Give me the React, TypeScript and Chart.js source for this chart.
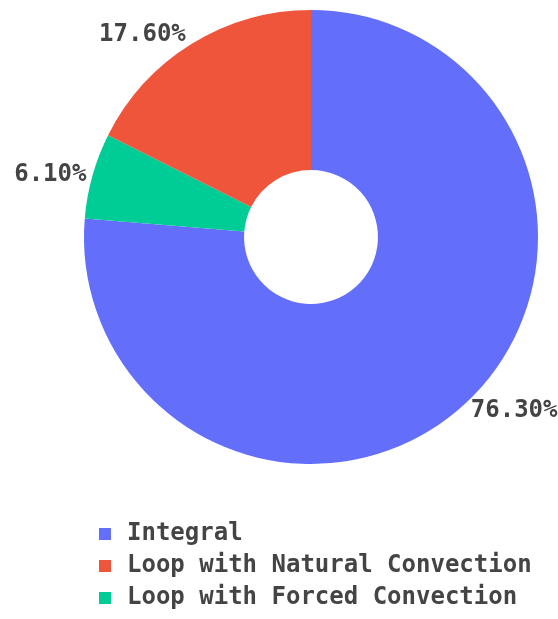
import React, { useEffect, useRef } from 'react';
import { Chart, registerables } from 'chart.js';

Chart.register(...registerables);

// Legend order
const categories = ['Integral', 'Loop with Natural Convection', 'Loop with Forced Convection'];
const shares = [76.3, 17.6, 6.1];
const sliceColors = ['#636efa', '#ef553b', '#00cc96'];
// Order in which slices are drawn clockwise from 12 o'clock
const drawOrder = [0, 2, 1];

const FONT = '"DejaVu Sans Mono", monospace';
const TEXT_COLOR = '#444444';

const pctLabelPlugin = {
  id: 'pctLabels',
  afterDatasetsDraw(chart: any) {
    const ctx = chart.ctx;
    const meta = chart.getDatasetMeta(0);
    const vals: number[] = chart.data.datasets[0].data;
    const total = vals.reduce((a, b) => a + b, 0);
    ctx.save();
    ctx.font = `bold 24px ${FONT}`;
    ctx.fillStyle = TEXT_COLOR;
    ctx.textAlign = 'center';
    ctx.textBaseline = 'middle';
    meta.data.forEach((arc: any, i: number) => {
      const { x, y, startAngle, endAngle, outerRadius } = arc.getProps(
        ['x', 'y', 'startAngle', 'endAngle', 'outerRadius'],
        true
      );
      const mid = (startAngle + endAngle) / 2;
      const px = Math.cos(mid) * outerRadius;
      const py = Math.sin(mid) * outerRadius;
      const text = ((vals[i] / total) * 100).toFixed(2) + '%';
      const w = ctx.measureText(text).width;
      let dx = w / 2;
      let dy = 12;
      if (px < 0) dx = -dx;
      if (py < 0) dy = -dy;
      const ox = dx + (Math.abs(dy) * (dx > 0 ? 1 : -1)) / 2;
      const oy = dy / (1 + (px * px) / (py * py));
      ctx.fillText(text, x + px + ox, y + py + oy);
    });
    ctx.restore();
  },
};

const legendPlugin = {
  id: 'stackLegend',
  afterDraw(chart: any) {
    const { ctx, chartArea } = chart;
    ctx.save();
    ctx.font = `bold 24px ${FONT}`;
    ctx.textBaseline = 'middle';
    ctx.textAlign = 'left';
    categories.forEach((name, k) => {
      const cy = chartArea.bottom + 70 + k * 32;
      const bx = chartArea.left + 15;
      ctx.fillStyle = sliceColors[k];
      ctx.fillRect(bx, cy - 6, 12, 12);
      ctx.fillStyle = TEXT_COLOR;
      ctx.fillText(name, bx + 28, cy);
    });
    ctx.restore();
  },
};

export default function App() {
  const canvasRef = useRef<HTMLCanvasElement | null>(null);

  useEffect(() => {
    if (!canvasRef.current) return;
    const chart = new Chart(canvasRef.current, {
      type: 'doughnut',
      data: {
        labels: drawOrder.map((i) => categories[i]),
        datasets: [
          {
            data: drawOrder.map((i) => shares[i]),
            backgroundColor: drawOrder.map((i) => sliceColors[i]),
            borderWidth: 0,
            hoverBorderWidth: 0,
            hoverOffset: 0,
            offset: 0,
          },
        ],
      },
      options: {
        responsive: false,
        animation: false,
        cutout: '29.5%',
        rotation: 0,
        layout: { padding: { left: 84, right: 20, top: 10, bottom: 155 } },
        plugins: {
          legend: { display: false },
          tooltip: { enabled: false },
        },
      },
      plugins: [pctLabelPlugin, legendPlugin],
    });
    return () => chart.destroy();
  }, []);

  return (
    <div style={{ position: 'fixed', left: 0, top: 0, width: 558, height: 619, background: '#fff' }}>
      <canvas ref={canvasRef} width={558} height={619} style={{ display: 'block' }} />
    </div>
  );
}
